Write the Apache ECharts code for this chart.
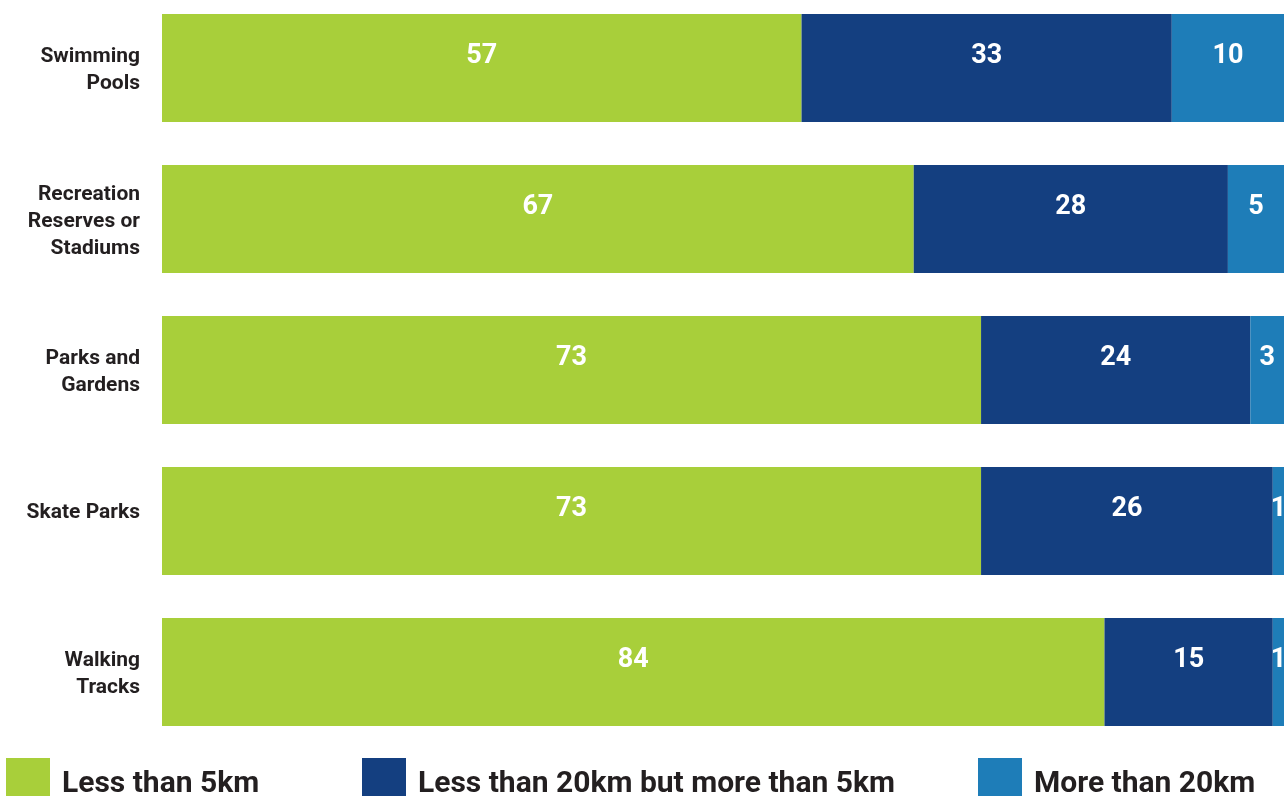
<!DOCTYPE html>
<html>
<head>
<meta charset="utf-8">
<script src="https://cdn.jsdelivr.net/npm/echarts@6/dist/echarts.min.js"></script>
<style>
  html, body { margin: 0; padding: 0; background: #fff; }
  #chart { width: 1288px; height: 796px; }
</style>
</head>
<body>
<div id="chart"></div>
<script>
// Distance to facility, share of respondents (%)
const categories = [
  'Swimming\nPools',
  'Recreation\nReserves or\nStadiums',
  'Parks and\nGardens',
  'Skate Parks',
  'Walking\nTracks'
];
const seriesNames = [
  'Less than 5km',
  'Less than 20km but more than 5km',
  'More than 20km'
];
const under5km = [57, 67, 73, 73, 84];
const from5to20km = [33, 28, 24, 26, 15];
const over20km = [10, 5, 3, 1, 1];

const colors = ['#a8cf3a', '#143f80', '#1e7db8'];
const FONT = 'Roboto, "Liberation Sans", sans-serif';
const TEXT_DARK = '#231f20';

const values = [under5km, from5to20km, over20km];

const chart = echarts.init(document.getElementById('chart'), null, { renderer: 'canvas' });

const series = seriesNames.map((name, i) => ({
  name,
  type: 'bar',
  stack: 'total',
  data: values[i],
  barWidth: 108,
  itemStyle: { color: colors[i] },
  label: {
    show: true,
    position: 'inside',
    offset: [0, -12],
    color: '#ffffff',
    fontFamily: FONT,
    fontWeight: 'bold',
    fontSize: 27
  },
  emphasis: { disabled: true }
}));

// one legend per entry so each swatch sits at its own column
const legendLefts = [6, 362, 978];
const legends = seriesNames.map((name, i) => ({
  data: [name],
  left: legendLefts[i],
  top: 758,
  padding: 0,
  itemWidth: 44,
  itemHeight: 38,
  itemGap: 12,
  icon: 'rect',
  selectedMode: false,
  formatter: '{t|{name}}',
  textStyle: {
    fontFamily: FONT,
    fontWeight: 'bold',
    fontSize: 30,
    color: TEXT_DARK,
    rich: {
      t: {
        fontFamily: FONT,
        fontWeight: 'bold',
        fontSize: 30,
        color: TEXT_DARK,
        padding: [14, 0, 0, 7]
      }
    }
  }
}));

chart.setOption({
  animation: false,
  backgroundColor: '#ffffff',
  legend: legends,
  grid: {
    left: 162,
    right: 4,
    top: -7.5,
    bottom: 48.5,
    outerBoundsMode: 'none',
    containLabel: false
  },
  xAxis: {
    type: 'value',
    min: 0,
    max: 100,
    show: false
  },
  yAxis: {
    type: 'category',
    data: categories,
    inverse: true,
    axisLine: { show: false },
    axisTick: { show: false },
    splitLine: { show: false },
    axisLabel: {
      margin: 22,
      color: TEXT_DARK,
      fontFamily: FONT,
      fontWeight: 'bold',
      fontSize: 21,
      lineHeight: 27,
      align: 'right',
      padding: [5, 0, 0, 0],
      // single-line label sits a little above the bar's middle
      formatter: (v) => (v.indexOf('\n') < 0 ? '{single|' + v + '}' : v),
      rich: {
        single: {
          color: TEXT_DARK,
          fontFamily: FONT,
          fontWeight: 'bold',
          fontSize: 21,
          lineHeight: 27,
          padding: [0, 0, 22, 0]
        }
      }
    }
  },
  series
});
</script>
</body>
</html>
